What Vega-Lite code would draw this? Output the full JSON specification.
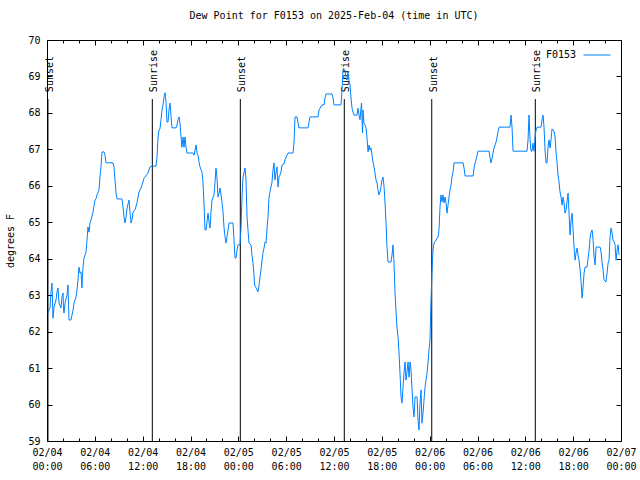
{
  "$schema": "https://vega.github.io/schema/vega-lite/v6.json",
  "width": 574,
  "height": 401,
  "autosize": {"type": "none"},
  "padding": {"left": 47, "top": 40, "right": 19, "bottom": 39},
  "background": "white",
  "title": {"text": "Dew Point for F0153 on 2025-Feb-04 (time in UTC)", "font": "DejaVu Sans Mono", "fontSize": 10, "fontWeight": "normal", "color": "black", "offset": 14, "anchor": "middle"},
  "config": {
    "view": {"stroke": "black", "strokeWidth": 1},
    "font": "DejaVu Sans Mono",
    "axis": {"labelFont": "DejaVu Sans Mono", "labelFontSize": 10, "labelColor": "black", "titleFont": "DejaVu Sans Mono", "titleFontSize": 10, "titleFontWeight": "normal", "titleColor": "black", "grid": false, "domain": false, "tickColor": "black"}
  },
  "datasets": {
    "sun": [
      {"h": 0.12, "event": "Sunset"},
      {"h": 13.21, "event": "Sunrise"},
      {"h": 24.25, "event": "Sunset"},
      {"h": 37.29, "event": "Sunrise"},
      {"h": 48.26, "event": "Sunset"},
      {"h": 61.25, "event": "Sunrise"}
    ],
    "dew": [
{"h":0.13,"v":62.51},{"h":0.38,"v":62.65},{"h":0.50,"v":63.09},{"h":0.63,"v":63.33},{"h":0.75,"v":62.37},{"h":0.88,"v":62.67},{"h":1.13,"v":62.87},{"h":1.25,"v":63.09},{"h":1.38,"v":63.20},{"h":1.51,"v":62.78},{"h":1.76,"v":62.65},{"h":1.88,"v":62.95},{"h":2.01,"v":63.06},{"h":2.07,"v":62.65},{"h":2.13,"v":62.51},{"h":2.26,"v":62.78},{"h":2.51,"v":63.00},{"h":2.63,"v":63.28},{"h":2.76,"v":62.32},{"h":3.01,"v":62.32},{"h":3.14,"v":62.46},{"h":3.26,"v":62.59},{"h":3.39,"v":62.78},{"h":3.64,"v":62.95},{"h":3.76,"v":63.14},{"h":3.89,"v":63.42},{"h":4.01,"v":63.77},{"h":4.14,"v":63.61},{"h":4.26,"v":63.64},{"h":4.39,"v":63.20},{"h":4.45,"v":63.55},{"h":4.52,"v":63.77},{"h":4.64,"v":64.02},{"h":4.89,"v":64.18},{"h":5.02,"v":64.51},{"h":5.14,"v":64.87},{"h":5.27,"v":64.73},{"h":5.39,"v":64.98},{"h":5.52,"v":65.06},{"h":5.77,"v":65.28},{"h":6.02,"v":65.61},{"h":6.15,"v":65.64},{"h":6.27,"v":65.75},{"h":6.52,"v":65.88},{"h":6.65,"v":66.24},{"h":6.77,"v":66.52},{"h":6.90,"v":66.93},{"h":7.15,"v":66.93},{"h":7.28,"v":66.84},{"h":7.40,"v":66.63},{"h":8.28,"v":66.63},{"h":8.40,"v":66.52},{"h":8.53,"v":66.16},{"h":8.66,"v":65.80},{"h":8.78,"v":65.64},{"h":9.41,"v":65.64},{"h":9.53,"v":65.42},{"h":9.66,"v":65.14},{"h":9.78,"v":64.98},{"h":9.91,"v":65.14},{"h":10.04,"v":65.39},{"h":10.29,"v":65.61},{"h":10.41,"v":65.28},{"h":10.54,"v":64.98},{"h":10.66,"v":65.06},{"h":10.79,"v":65.28},{"h":11.04,"v":65.34},{"h":11.29,"v":65.53},{"h":11.42,"v":65.69},{"h":11.54,"v":65.83},{"h":11.79,"v":65.94},{"h":11.92,"v":66.02},{"h":12.17,"v":66.21},{"h":12.29,"v":66.24},{"h":12.67,"v":66.35},{"h":12.92,"v":66.52},{"h":13.17,"v":66.54},{"h":13.67,"v":66.54},{"h":13.80,"v":66.79},{"h":13.92,"v":67.31},{"h":14.05,"v":67.53},{"h":14.17,"v":67.56},{"h":14.30,"v":67.81},{"h":14.43,"v":68.08},{"h":14.55,"v":68.22},{"h":14.68,"v":68.44},{"h":14.80,"v":68.55},{"h":14.93,"v":68.30},{"h":15.05,"v":67.75},{"h":15.18,"v":67.75},{"h":15.30,"v":68.08},{"h":15.43,"v":68.27},{"h":15.56,"v":67.89},{"h":15.68,"v":67.59},{"h":16.18,"v":67.59},{"h":16.31,"v":67.67},{"h":16.43,"v":67.81},{"h":16.56,"v":67.89},{"h":16.68,"v":67.72},{"h":16.81,"v":67.34},{"h":16.93,"v":67.06},{"h":17.06,"v":67.34},{"h":17.19,"v":67.06},{"h":17.31,"v":67.34},{"h":17.44,"v":67.06},{"h":17.56,"v":66.90},{"h":18.31,"v":66.90},{"h":18.44,"v":66.84},{"h":18.57,"v":66.98},{"h":18.69,"v":67.12},{"h":18.82,"v":66.90},{"h":18.94,"v":66.84},{"h":19.07,"v":66.65},{"h":19.19,"v":66.52},{"h":19.44,"v":66.38},{"h":19.57,"v":66.08},{"h":19.69,"v":65.53},{"h":19.82,"v":64.79},{"h":19.95,"v":64.79},{"h":20.07,"v":65.01},{"h":20.20,"v":65.25},{"h":20.32,"v":65.01},{"h":20.45,"v":64.84},{"h":20.57,"v":65.28},{"h":20.70,"v":65.61},{"h":20.95,"v":65.75},{"h":21.07,"v":66.08},{"h":21.20,"v":66.49},{"h":21.32,"v":66.24},{"h":21.45,"v":65.69},{"h":21.58,"v":65.80},{"h":21.70,"v":65.94},{"h":21.83,"v":65.75},{"h":21.95,"v":65.56},{"h":22.08,"v":65.28},{"h":22.20,"v":64.87},{"h":22.33,"v":64.60},{"h":22.45,"v":64.43},{"h":22.58,"v":64.60},{"h":22.71,"v":64.79},{"h":22.83,"v":64.98},{"h":23.33,"v":64.98},{"h":23.46,"v":64.51},{"h":23.58,"v":64.02},{"h":23.71,"v":64.02},{"h":23.83,"v":64.24},{"h":23.96,"v":64.38},{"h":24.21,"v":64.38},{"h":24.34,"v":64.87},{"h":24.46,"v":65.69},{"h":24.59,"v":66.24},{"h":24.84,"v":66.49},{"h":24.96,"v":66.16},{"h":25.09,"v":65.14},{"h":25.21,"v":64.79},{"h":25.34,"v":64.43},{"h":25.59,"v":64.38},{"h":25.71,"v":64.10},{"h":25.84,"v":63.88},{"h":25.97,"v":63.55},{"h":26.03,"v":63.28},{"h":26.22,"v":63.20},{"h":26.47,"v":63.09},{"h":26.60,"v":63.28},{"h":26.72,"v":63.50},{"h":26.84,"v":63.69},{"h":26.97,"v":63.96},{"h":27.10,"v":64.18},{"h":27.22,"v":64.29},{"h":27.35,"v":64.46},{"h":27.47,"v":64.43},{"h":27.60,"v":64.84},{"h":27.72,"v":65.12},{"h":27.79,"v":65.47},{"h":27.85,"v":65.69},{"h":27.97,"v":65.83},{"h":28.10,"v":65.97},{"h":28.22,"v":66.10},{"h":28.35,"v":66.43},{"h":28.47,"v":66.63},{"h":28.60,"v":66.16},{"h":28.73,"v":66.38},{"h":28.85,"v":66.52},{"h":28.98,"v":65.97},{"h":29.10,"v":66.24},{"h":29.23,"v":66.30},{"h":29.35,"v":66.38},{"h":29.48,"v":66.57},{"h":29.73,"v":66.60},{"h":29.85,"v":66.71},{"h":30.11,"v":66.84},{"h":30.23,"v":66.90},{"h":30.86,"v":66.90},{"h":30.98,"v":67.17},{"h":31.11,"v":67.89},{"h":31.36,"v":67.89},{"h":31.49,"v":67.72},{"h":31.61,"v":67.59},{"h":32.74,"v":67.59},{"h":32.87,"v":67.75},{"h":32.99,"v":67.89},{"h":33.99,"v":67.89},{"h":34.12,"v":68.08},{"h":34.25,"v":68.13},{"h":34.50,"v":68.22},{"h":34.75,"v":68.22},{"h":34.87,"v":68.41},{"h":35.00,"v":68.52},{"h":35.75,"v":68.52},{"h":35.88,"v":68.41},{"h":36.00,"v":68.22},{"h":36.88,"v":68.22},{"h":37.00,"v":68.63},{"h":37.13,"v":69.18},{"h":37.38,"v":69.18},{"h":37.51,"v":68.96},{"h":37.63,"v":68.90},{"h":37.76,"v":69.12},{"h":37.88,"v":68.90},{"h":38.01,"v":68.77},{"h":38.13,"v":68.41},{"h":38.26,"v":68.13},{"h":38.39,"v":68.02},{"h":38.51,"v":67.94},{"h":38.89,"v":67.94},{"h":39.01,"v":68.13},{"h":39.14,"v":67.94},{"h":39.26,"v":67.81},{"h":39.45,"v":68.27},{"h":39.58,"v":67.45},{"h":39.64,"v":68.08},{"h":39.76,"v":67.72},{"h":39.89,"v":67.67},{"h":40.02,"v":67.59},{"h":40.14,"v":67.31},{"h":40.27,"v":66.93},{"h":40.40,"v":67.12},{"h":40.52,"v":66.98},{"h":40.64,"v":67.04},{"h":40.77,"v":66.84},{"h":40.89,"v":66.65},{"h":41.02,"v":66.52},{"h":41.14,"v":66.35},{"h":41.27,"v":66.16},{"h":41.40,"v":66.08},{"h":41.52,"v":65.88},{"h":41.65,"v":65.75},{"h":41.77,"v":65.83},{"h":41.90,"v":65.97},{"h":42.02,"v":66.16},{"h":42.15,"v":66.24},{"h":42.28,"v":65.97},{"h":42.40,"v":65.53},{"h":42.53,"v":64.98},{"h":42.65,"v":64.32},{"h":42.78,"v":63.91},{"h":43.15,"v":63.91},{"h":43.28,"v":64.10},{"h":43.40,"v":64.38},{"h":43.53,"v":63.88},{"h":43.65,"v":63.09},{"h":43.78,"v":62.54},{"h":43.90,"v":62.13},{"h":44.03,"v":61.85},{"h":44.15,"v":61.44},{"h":44.28,"v":60.86},{"h":44.41,"v":60.21},{"h":44.53,"v":60.04},{"h":44.66,"v":60.48},{"h":44.78,"v":60.86},{"h":44.91,"v":61.17},{"h":45.03,"v":60.67},{"h":45.16,"v":60.89},{"h":45.29,"v":61.17},{"h":45.41,"v":60.75},{"h":45.54,"v":61.17},{"h":45.66,"v":60.95},{"h":45.79,"v":60.40},{"h":45.91,"v":59.93},{"h":46.04,"v":59.66},{"h":46.17,"v":60.21},{"h":46.42,"v":60.21},{"h":46.54,"v":59.57},{"h":46.66,"v":59.30},{"h":46.79,"v":60.04},{"h":46.92,"v":60.40},{"h":47.04,"v":59.49},{"h":47.17,"v":59.77},{"h":47.29,"v":60.12},{"h":47.42,"v":60.48},{"h":47.54,"v":60.67},{"h":47.67,"v":60.86},{"h":47.79,"v":61.14},{"h":47.92,"v":61.50},{"h":48.04,"v":61.77},{"h":48.17,"v":62.87},{"h":48.29,"v":63.61},{"h":48.42,"v":64.24},{"h":48.55,"v":64.43},{"h":48.80,"v":64.51},{"h":49.05,"v":64.60},{"h":49.17,"v":64.79},{"h":49.30,"v":65.42},{"h":49.42,"v":65.75},{"h":49.55,"v":65.56},{"h":49.68,"v":65.75},{"h":49.80,"v":65.53},{"h":49.93,"v":65.69},{"h":50.05,"v":65.53},{"h":50.18,"v":65.25},{"h":50.30,"v":65.47},{"h":50.43,"v":65.69},{"h":50.55,"v":65.88},{"h":50.68,"v":66.02},{"h":50.80,"v":66.24},{"h":50.93,"v":66.38},{"h":51.06,"v":66.63},{"h":52.19,"v":66.63},{"h":52.31,"v":66.49},{"h":52.44,"v":66.27},{"h":53.45,"v":66.27},{"h":53.57,"v":66.49},{"h":53.70,"v":66.63},{"h":53.82,"v":66.71},{"h":53.95,"v":66.84},{"h":54.07,"v":66.95},{"h":55.45,"v":66.95},{"h":55.58,"v":66.76},{"h":55.70,"v":66.63},{"h":55.83,"v":66.76},{"h":55.95,"v":66.90},{"h":56.08,"v":67.04},{"h":56.33,"v":67.20},{"h":56.45,"v":67.34},{"h":56.58,"v":67.48},{"h":56.70,"v":67.61},{"h":58.08,"v":67.61},{"h":58.21,"v":67.94},{"h":58.33,"v":67.61},{"h":58.46,"v":66.95},{"h":60.21,"v":66.95},{"h":60.34,"v":67.26},{"h":60.46,"v":67.94},{"h":60.59,"v":67.26},{"h":60.71,"v":66.95},{"h":60.84,"v":66.95},{"h":60.96,"v":67.17},{"h":61.09,"v":66.95},{"h":61.22,"v":67.34},{"h":61.34,"v":67.53},{"h":61.47,"v":67.61},{"h":61.97,"v":67.61},{"h":62.10,"v":67.81},{"h":62.22,"v":67.94},{"h":62.35,"v":67.59},{"h":62.47,"v":66.98},{"h":62.60,"v":66.63},{"h":62.72,"v":66.63},{"h":62.85,"v":67.06},{"h":62.97,"v":67.26},{"h":63.10,"v":67.04},{"h":63.22,"v":67.26},{"h":63.35,"v":67.56},{"h":63.60,"v":67.50},{"h":63.73,"v":67.34},{"h":63.85,"v":66.93},{"h":63.98,"v":66.63},{"h":64.10,"v":66.30},{"h":64.23,"v":66.10},{"h":64.35,"v":65.83},{"h":64.48,"v":65.69},{"h":64.61,"v":65.47},{"h":64.73,"v":65.69},{"h":64.86,"v":65.53},{"h":64.98,"v":65.25},{"h":65.11,"v":65.34},{"h":65.23,"v":65.56},{"h":65.36,"v":65.80},{"h":65.48,"v":65.25},{"h":65.61,"v":64.65},{"h":65.74,"v":65.06},{"h":65.86,"v":65.25},{"h":65.99,"v":64.79},{"h":66.11,"v":64.32},{"h":66.24,"v":63.96},{"h":66.36,"v":64.16},{"h":66.49,"v":64.29},{"h":66.61,"v":64.10},{"h":66.74,"v":63.96},{"h":66.87,"v":63.69},{"h":66.99,"v":63.36},{"h":67.12,"v":62.92},{"h":67.24,"v":63.22},{"h":67.37,"v":63.61},{"h":67.49,"v":63.77},{"h":67.74,"v":63.77},{"h":67.87,"v":64.02},{"h":68.00,"v":64.24},{"h":68.12,"v":64.57},{"h":68.25,"v":64.73},{"h":68.37,"v":64.79},{"h":68.50,"v":64.51},{"h":68.62,"v":64.05},{"h":68.75,"v":63.83},{"h":68.87,"v":64.32},{"h":69.37,"v":64.32},{"h":69.50,"v":64.18},{"h":69.62,"v":63.91},{"h":69.75,"v":63.69},{"h":69.87,"v":63.42},{"h":70.12,"v":63.36},{"h":70.25,"v":63.61},{"h":70.38,"v":63.88},{"h":70.50,"v":63.96},{"h":70.63,"v":64.60},{"h":70.75,"v":64.84},{"h":70.88,"v":64.71},{"h":71.00,"v":64.51},{"h":71.13,"v":64.46},{"h":71.26,"v":64.38},{"h":71.38,"v":63.96},{"h":71.51,"v":64.24},{"h":71.63,"v":64.38},{"h":71.76,"v":64.10}
    ]
  },
  "layer": [
    {
      "data": {"name": "sun"},
      "mark": {"type": "rule", "color": "black", "strokeWidth": 1},
      "encoding": {
        "x": {"field": "h", "type": "quantitative", "scale": {"domain": [0, 72], "nice": false, "zero": false},
          "axis": {"orient": "bottom", "title": null, "labels": false, "values": [0,2,4,6,8,10,12,14,16,18,20,22,24,26,28,30,32,34,36,38,40,42,44,46,48,50,52,54,56,58,60,62,64,66,68,70,72],
            "tickSize": {"condition": {"test": "datum.value % 6 === 0", "value": -5}, "value": -3}}},
        "y": {"datum": 68.38, "type": "quantitative", "scale": {"domain": [59, 70], "nice": false, "zero": false},
          "axis": {"orient": "left", "title": null, "labels": false, "values": [59,60,61,62,63,64,65,66,67,68,69,70], "tickSize": -5}},
        "y2": {"datum": 59}
      }
    },
    {
      "data": {"name": "sun"},
      "mark": {"type": "text", "angle": 270, "align": "left", "baseline": "alphabetic", "dy": 5, "font": "DejaVu Sans Mono", "fontSize": 10, "color": "black"},
      "encoding": {
        "x": {"field": "h", "type": "quantitative",
          "axis": {"orient": "top", "title": null, "labels": false, "values": [0,2,4,6,8,10,12,14,16,18,20,22,24,26,28,30,32,34,36,38,40,42,44,46,48,50,52,54,56,58,60,62,64,66,68,70,72],
            "tickSize": {"condition": {"test": "datum.value % 6 === 0", "value": -5}, "value": -3}}},
        "y": {"datum": 68.57, "type": "quantitative",
          "axis": {"orient": "right", "title": null, "labels": false, "values": [59,60,61,62,63,64,65,66,67,68,69,70], "tickSize": -5}},
        "text": {"field": "event"}
      }
    },
    {
      "data": {"name": "dew"},
      "mark": {"type": "line", "strokeWidth": 1, "interpolate": "linear"},
      "encoding": {
        "x": {"field": "h", "type": "quantitative",
          "axis": {"orient": "bottom", "title": null, "ticks": false, "labelPadding": 6, "values": [0,6,12,18,24,30,36,42,48,54,60,66,72],
            "labelExpr": "['02/0' + (4 + floor(datum.value / 24)), (datum.value % 24 < 10 ? '0' : '') + (datum.value % 24) + ':00']",
            "labelLineHeight": 14, "labelFlush": false, "labelOverlap": false, "labelBaseline": "top"}},
        "y": {"field": "v", "type": "quantitative",
          "axis": {"orient": "left", "title": "degrees F", "ticks": false, "labelPadding": 7, "titlePadding": 12, "values": [59,60,61,62,63,64,65,66,67,68,69,70], "format": "d"}},
        "color": {"datum": "F0153", "type": "nominal", "scale": {"range": ["#0080ff"]},
          "legend": {"title": null, "orient": "none", "legendX": 536, "legendY": 1, "padding": 0, "symbolType": "stroke", "symbolSize": 729, "symbolStrokeWidth": 1, "labelAlign": "right", "labelOffset": -35, "labelFont": "DejaVu Sans Mono", "labelFontSize": 10, "labelColor": "black", "labelLimit": 0}}
      }
    }
  ],
  "resolve": {"axis": {"x": "independent", "y": "independent"}}
}
